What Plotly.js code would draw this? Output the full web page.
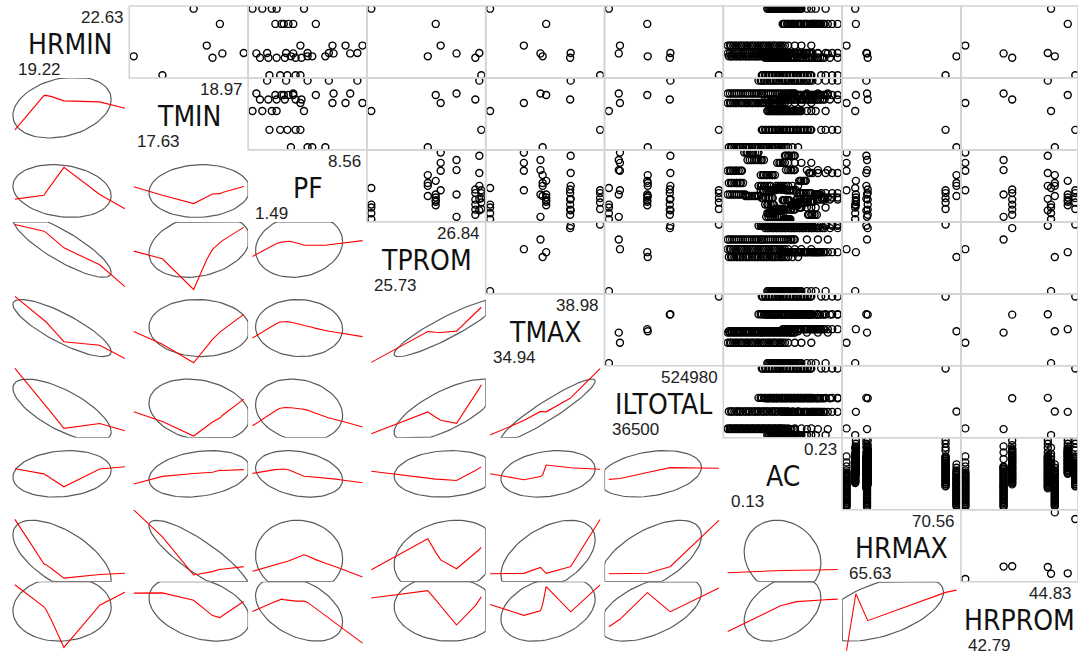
<!DOCTYPE html>
<html><head><meta charset="utf-8">
<script src="https://cdn.plot.ly/plotly-3.0.1.min.js"></script>
<style>html,body{margin:0;padding:0;background:#fff}#chart{width:1078px;height:655px}</style>
</head><body><div id="chart"></div>
<script>
// ---------------- DATA (8 sites) ----------------
const VARS = ['HRMIN','TMIN','PF','TPROM','TMAX','ILTOTAL','AC','HRMAX','HRPROM'];

const HRMIN   = [22.63, 21.85, 20.74, 20.19, 20.34, 20.12, 20.36, 19.22];
const TMIN    = [18.36, 18.68, 18.52, 17.63, 18.71, 18.59, 18.97, 17.98];
const TPROM   = [25.73, 26.38, 26.43, 26.30, 26.59, 26.78, 26.82, 26.84];
const TMAX    = [34.94, 37.00, 36.18, 36.87, 36.79, 37.88, 37.90, 38.98];
const ILTOTAL = [36500, 206900, 85560, 209000, 80280, 307120, 309500, 524980];
const HRMAX   = [66.02, 66.05, 65.63, 70.56, 66.55, 66.58, 66.52, 70.07];
const HRPROM  = [44.38, 44.69, 42.79, 44.45, 43.50, 43.66, 44.32, 44.83];

const PF_BY_SITE = [
  [2.12, 4.80, 1.49, 3.04, 2.73],
  [3.50, 2.96, 5.56, 3.35, 4.11, 3.80],
  [6.63, 8.56, 4.57, 7.47],
  [5.33, 3.96, 6.17, 5.03],
  [4.11, 7.77, 1.74, 6.70],
  [3.04, 4.64, 2.51, 4.26, 1.97, 3.57],
  [5.03, 2.43, 8.23, 3.65, 6.40],
  [3.73, 2.58, 4.57, 3.27, 4.26]
];

const AC_BY_SITE = [
  [0.166,0.167,0.168,0.169,0.170,0.171,0.172,0.173,0.174,0.175,0.176,0.177,0.178,0.179,0.180,0.181,0.182,0.183,0.184,0.185,0.186,0.187,0.188,0.189,0.190,0.191,0.192,0.193,0.194,0.195,0.196,0.197,0.202,0.206,0.210,0.219],
  [0.180,0.181,0.182,0.184,0.185,0.186,0.188,0.189,0.190,0.191,0.193,0.194,0.195,0.196,0.197,0.199,0.200,0.201,0.202,0.203,0.205,0.206,0.207,0.208,0.209,0.210,0.211,0.212,0.213,0.214,0.215,0.217,0.218,0.221,0.225,0.230],
  [0.130,0.132,0.133,0.135,0.137,0.138,0.140,0.142,0.143,0.145,0.147,0.148,0.150,0.152,0.153,0.155,0.157,0.158,0.160,0.162,0.163,0.165,0.167,0.168,0.170,0.172,0.173,0.175,0.177,0.178,0.180,0.182,0.185,0.191,0.197,0.206],
  [0.131,0.133,0.134,0.136,0.138,0.139,0.141,0.142,0.144,0.146,0.147,0.149,0.150,0.152,0.154,0.155,0.157,0.158,0.160,0.162,0.163,0.165,0.166,0.168,0.170,0.171,0.173,0.174,0.176,0.178,0.179,0.181,0.183,0.185,0.189,0.194],
  [0.130,0.132,0.134,0.136,0.138,0.140,0.142,0.144,0.146,0.148,0.150,0.152,0.154,0.156,0.158,0.160,0.161,0.163,0.165,0.167,0.169,0.171,0.173,0.175,0.177,0.179,0.181,0.183,0.185,0.187,0.188,0.190,0.191,0.202,0.212,0.221],
  [0.164,0.166,0.167,0.169,0.171,0.172,0.174,0.175,0.177,0.179,0.180,0.182,0.183,0.185,0.187,0.188,0.190,0.191,0.193,0.195,0.196,0.198,0.199,0.201,0.203,0.204,0.206,0.207,0.209,0.211,0.212,0.214,0.216,0.218,0.223,0.230],
  [0.158,0.160,0.161,0.163,0.164,0.166,0.168,0.169,0.171,0.172,0.174,0.175,0.177,0.179,0.180,0.182,0.183,0.185,0.186,0.188,0.190,0.191,0.193,0.194,0.196,0.197,0.199,0.201,0.202,0.204,0.205,0.207,0.212,0.219,0.225,0.230],
  [0.161,0.162,0.164,0.165,0.167,0.168,0.170,0.171,0.173,0.174,0.176,0.177,0.178,0.180,0.181,0.183,0.184,0.186,0.187,0.189,0.190,0.192,0.193,0.194,0.196,0.197,0.199,0.200,0.202,0.203,0.205,0.206,0.215,0.219,0.225,0.230]
];

// ---------------- build observation table ----------------
const SITE_VALUES = {HRMIN, TMIN, TPROM, TMAX, ILTOTAL, HRMAX, HRPROM};
const cols = {}; VARS.forEach(v => cols[v] = []);
for (let g = 0; g < HRMIN.length; g++) {
  const acs = AC_BY_SITE[g], pfs = PF_BY_SITE[g], n = acs.length;
  for (let k = 0; k < n; k++) {
    for (const v in SITE_VALUES) cols[v].push(SITE_VALUES[v][g]);
    cols.PF.push(pfs[Math.floor(k * pfs.length / n)]);
    cols.AC.push(acs[k]);
  }
}

// ---------------- statistics (R lowess + corrgram data ellipse) ----------------
function lowest(X, Y, n, xs, nleft, nright, W, userw, RW) {
  const range = X[n] - X[1];
  const h = Math.max(xs - X[nleft], X[nright] - xs);
  const h9 = 0.999 * h, h1 = 0.001 * h;
  let a = 0, j = nleft;
  while (j <= n) {
    W[j] = 0;
    const r = Math.abs(X[j] - xs);
    if (r <= h9) {
      if (r <= h1) W[j] = 1; else { const q = r / h, t = 1 - q * q * q; W[j] = t * t * t; }
      if (userw) W[j] *= RW[j];
      a += W[j];
    } else if (X[j] > xs) break;
    j++;
  }
  const nrt = j - 1;
  if (a <= 0) return null;
  for (j = nleft; j <= nrt; j++) W[j] /= a;
  if (h > 0) {
    a = 0; for (j = nleft; j <= nrt; j++) a += W[j] * X[j];
    let b = xs - a, c = 0;
    for (j = nleft; j <= nrt; j++) c += W[j] * (X[j] - a) * (X[j] - a);
    if (Math.sqrt(c) > 0.001 * range) { b /= c; for (j = nleft; j <= nrt; j++) W[j] *= (b * (X[j] - a) + 1); }
  }
  let ys = 0; for (j = nleft; j <= nrt; j++) ys += W[j] * Y[j];
  return ys;
}
function lowess(xIn, yIn, f = 2 / 3, nsteps = 3) {
  const n = xIn.length;
  const idx = xIn.map((v, i) => i).sort((p, q) => (xIn[p] - xIn[q]) || (p - q));
  const X = [0], Y = [0];
  idx.forEach(i => { X.push(xIn[i]); Y.push(yIn[i]); });
  const delta = 0.01 * (X[n] - X[1]);
  const YS = new Array(n + 1).fill(0), RW = new Array(n + 1).fill(1), WK = new Array(n + 1).fill(0);
  const ns = Math.max(2, Math.min(n, Math.floor(f * n + 1e-7)));
  let iter = 1;
  while (iter <= nsteps + 1) {
    let nleft = 1, nright = ns, last = 0, i = 1;
    for (;;) {
      if (nright < n) {
        const d1 = X[i] - X[nleft], d2 = X[nright + 1] - X[i];
        if (d1 > d2) { nleft++; nright++; continue; }
      }
      const v = lowest(X, Y, n, X[i], nleft, nright, WK, iter > 1, RW);
      YS[i] = (v === null) ? Y[i] : v;
      if (last < i - 1) {
        const denom = X[i] - X[last];
        for (let j = last + 1; j < i; j++) { const al = (X[j] - X[last]) / denom; YS[j] = al * YS[i] + (1 - al) * YS[last]; }
      }
      last = i;
      const cut = X[last] + delta;
      for (i = last + 1; i <= n; i++) {
        if (X[i] > cut) break;
        if (X[i] === X[last]) { YS[i] = YS[last]; last = i; }
      }
      i = Math.max(last + 1, i - 1);
      if (last >= n) break;
    }
    const res = [0]; let sc = 0;
    for (let j = 1; j <= n; j++) { res[j] = Y[j] - YS[j]; sc += Math.abs(res[j]); }
    sc /= n;
    if (iter > nsteps) break;
    const abs = res.slice(1).map(Math.abs).sort((a, b) => a - b);
    const m1 = Math.floor(n / 2);
    const cmad = (n % 2 === 0) ? 3 * (abs[m1] + abs[n - m1 - 1]) : 6 * abs[m1];
    if (cmad < 1e-7 * sc) break;
    const c9 = 0.999 * cmad, c1 = 0.001 * cmad;
    for (let j = 1; j <= n; j++) {
      const r = Math.abs(res[j]);
      RW[j] = r <= c1 ? 1 : (r <= c9 ? Math.pow(1 - (r / cmad) * (r / cmad), 2) : 0);
    }
    iter++;
  }
  return {x: X.slice(1), y: YS.slice(1)};
}
function mean(a) { return a.reduce((s, v) => s + v, 0) / a.length; }
function dataEllipse(x, y, xr, yr) {
  const n = x.length, mx = mean(x), my = mean(y);
  let sxx = 0, syy = 0, sxy = 0;
  for (let k = 0; k < n; k++) { const dx = x[k] - mx, dy = y[k] - my; sxx += dx * dx; syy += dy * dy; sxy += dx * dy; }
  sxx /= (n - 1); syy /= (n - 1); sxy /= (n - 1);
  const dfd = n - 1;
  const q = (dfd / 2) * (Math.pow(1 - 0.68, -2 / dfd) - 1);   // qf(.68, 2, n-1)
  const radius = Math.sqrt(2 * q);
  const r11 = Math.sqrt(sxx), r12 = sxy / r11, r22 = Math.sqrt(Math.max(syy - r12 * r12, 0));
  const ex = [], ey = [], seg = 75;
  for (let k = 0; k < seg; k++) {
    const t = 2 * Math.PI * k / (seg - 1), c = Math.cos(t), s = Math.sin(t);
    let px = mx + radius * c * r11, py = my + radius * (c * r12 + s * r22);
    px = Math.min(Math.max(px, xr[0]), xr[1]);
    py = Math.min(Math.max(py, yr[0]), yr[1]);
    ex.push(px); ey.push(py);
  }
  return {x: ex, y: ey};
}

// ---------------- layout geometry ----------------
const W = 1078, H = 655;
const LEFT = 10.5, CW = 118.8, TOP = 6, CH = 71.96;
const usr = {}, lims = {};
VARS.forEach(v => {
  const lo = Math.min(...cols[v]), hi = Math.max(...cols[v]);
  lims[v] = [lo, hi];
  const d = (hi - lo) * 0.04;
  usr[v] = [lo - d, hi + d];
});
const axId = (k) => k === 0 ? '' : String(k + 1);

const layout = {
  width: W, height: H, margin: {l: 0, r: 0, t: 0, b: 0, pad: 0},
  paper_bgcolor: '#ffffff', plot_bgcolor: 'rgba(0,0,0,0)',
  showlegend: false, hovermode: false,
  annotations: [], shapes: []
};
const axBase = {showgrid: false, zeroline: false, showticklabels: false, ticks: '', showline: false, fixedrange: true};
VARS.forEach((v, j) => {
  const x0 = LEFT + CW * j, x1 = x0 + CW;
  const r = usr[v];
  const xrange = x1 > W ? [r[0], r[0] + (r[1] - r[0]) * (W - x0) / CW] : r.slice();
  layout['xaxis' + axId(j)] = Object.assign({}, axBase, {domain: [x0 / W, Math.min(1, x1 / W)], range: xrange, anchor: 'y' + axId(j)});
  const t0 = TOP + CH * j, t1 = t0 + CH;
  layout['yaxis' + axId(j)] = Object.assign({}, axBase, {domain: [Math.max(0, 1 - t1 / H), 1 - t0 / H], range: r.slice(), anchor: 'x' + axId(j)});
});

const fmt = (v) => String(Math.round(v * 100) / 100);
const nameFont = {family: '"Liberation Sans Narrow", "Arial Narrow", "DejaVu Sans Condensed", "Liberation Sans", Arial, sans-serif', size: 28, color: '#111'};
const numFont = {family: '"Liberation Sans", Arial, sans-serif', size: 17, color: '#222'};
VARS.forEach((v, i) => {
  const xr = 'x' + axId(i) + ' domain', yr = 'y' + axId(i) + ' domain';
  layout.annotations.push({xref: xr, yref: yr, x: 0.5, y: 0.465, text: v, showarrow: false, xanchor: 'center', yanchor: 'middle', font: nameFont});
  layout.annotations.push({xref: xr, yref: yr, x: 0.045, y: 0.115, text: fmt(lims[v][0]), showarrow: false, xanchor: 'left', yanchor: 'middle', font: numFont});
  layout.annotations.push({xref: xr, yref: yr, x: 0.97, y: 0.84, text: fmt(lims[v][1]), showarrow: false, xanchor: 'right', yanchor: 'middle', font: numFont});
});

// ---------------- traces ----------------
const traces = [];
for (let i = 0; i < VARS.length; i++) {
  for (let j = 0; j < VARS.length; j++) {
    if (i === j) continue;
    const xs = cols[VARS[j]], ys = cols[VARS[i]];
    const xa = 'x' + axId(j), ya = 'y' + axId(i);
    if (i < j) {
      const seen = new Set(), px = [], py = [];
      for (let k = 0; k < xs.length; k++) {
        const key = xs[k] + '|' + ys[k];
        if (seen.has(key)) continue;
        seen.add(key); px.push(xs[k]); py.push(ys[k]);
      }
      traces.push({type: 'scatter', mode: 'markers', x: px, y: py, xaxis: xa, yaxis: ya, cliponaxis: true,
        marker: {symbol: 'circle-open', size: 7, color: '#000', line: {width: 1.4, color: '#000'}}, hoverinfo: 'skip'});
      layout.shapes.push({type: 'rect', xref: xa + ' domain', yref: ya + ' domain', x0: 0, x1: 1, y0: 0, y1: 1,
        line: {color: '#D3D3D3', width: 1.6}, layer: 'above'});
    } else {
      const el = dataEllipse(xs, ys, usr[VARS[j]], usr[VARS[i]]);
      traces.push({type: 'scatter', mode: 'lines', x: el.x, y: el.y, xaxis: xa, yaxis: ya,
        line: {color: '#5a5a5a', width: 1.2}, hoverinfo: 'skip'});
      const lw = lowess(xs, ys);
      traces.push({type: 'scatter', mode: 'lines', x: lw.x, y: lw.y, xaxis: xa, yaxis: ya,
        line: {color: '#FF0000', width: 1.1}, hoverinfo: 'skip'});
    }
  }
}

Plotly.newPlot('chart', traces, layout, {staticPlot: true, displayModeBar: false});
</script>
</body></html>
